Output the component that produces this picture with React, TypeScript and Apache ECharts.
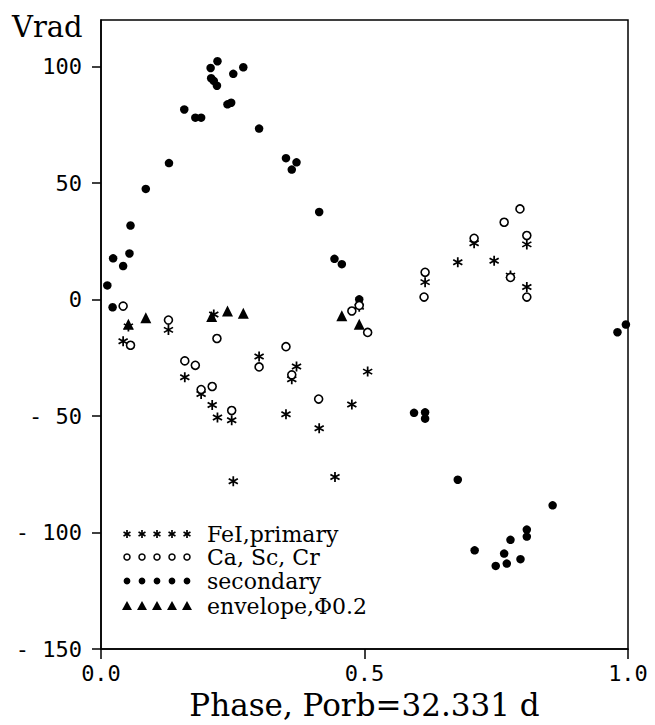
import React, { useEffect, useRef } from "react";
import * as echarts from "echarts";

// Phase, radial velocity pairs
const feiPrimary: [number, number][] = [
  [0.042, -17.9], [0.052, -11.5], [0.128, -13.0], [0.159, -33.3], [0.190, -40.5],
  [0.211, -45.2], [0.214, -6.4], [0.221, -50.6], [0.248, -51.8], [0.251, -78.0],
  [0.300, -24.4], [0.351, -49.2], [0.362, -34.2], [0.371, -28.7], [0.414, -55.2],
  [0.444, -76.1], [0.476, -45.0], [0.490, -3.1], [0.506, -30.9], [0.615, 7.5],
  [0.677, 16.0], [0.708, 24.2], [0.746, 16.7], [0.777, 10.3], [0.808, 23.7],
  [0.808, 5.4],
];

const caScCr: [number, number][] = [
  [0.042, -2.8], [0.056, -19.6], [0.128, -8.8], [0.159, -26.3], [0.179, -28.2],
  [0.190, -38.6], [0.211, -37.3], [0.220, -16.7], [0.248, -47.6], [0.300, -28.9],
  [0.351, -20.2], [0.362, -32.3], [0.413, -42.7], [0.476, -4.9], [0.490, -2.5],
  [0.506, -14.1], [0.613, 1.1], [0.615, 11.7], [0.708, 26.3], [0.765, 33.2],
  [0.777, 9.5], [0.795, 38.9], [0.808, 27.5], [0.808, 1.1],
];

const secondary: [number, number][] = [
  [0.012, 6.1], [0.022, -3.3], [0.023, 17.7], [0.042, 14.4], [0.054, 19.8],
  [0.056, 31.8], [0.085, 47.5], [0.129, 58.6], [0.158, 81.6], [0.179, 78.1],
  [0.190, 78.1], [0.208, 99.4], [0.209, 95.0], [0.214, 93.9], [0.220, 91.8],
  [0.221, 102.3], [0.240, 83.8], [0.247, 84.5], [0.251, 96.9], [0.270, 99.7],
  [0.300, 73.4], [0.351, 60.7], [0.362, 55.8], [0.371, 58.9], [0.414, 37.6],
  [0.443, 17.5], [0.457, 15.2], [0.490, 0.1], [0.594, -48.6], [0.615, -48.4],
  [0.615, -51.1], [0.677, -77.3], [0.709, -107.6], [0.749, -114.3], [0.765, -109.0],
  [0.770, -113.3], [0.777, -103.1], [0.796, -111.4], [0.808, -98.7], [0.808, -101.7],
  [0.857, -88.3], [0.980, -14.0], [0.996, -10.7],
];

const envelope: [number, number][] = [
  [0.052, -10.6], [0.085, -7.8], [0.210, -7.2], [0.240, -4.9], [0.270, -5.9],
  [0.457, -6.9], [0.490, -10.6],
];

const legendLabels = ["FeI,primary", "Ca, Sc, Cr", "secondary", "envelope,\u03A60.2"];
const yTicks = [-150, -100, -50, 0, 50, 100];
const xTicks = [0, 0.5, 1];

const ASTERISK =
  "path://M-1,-6L1,-6L1,6L-1,6Z M5.696,2.134L4.696,3.866L-5.696,-2.134L-4.696,-3.866Z M4.696,-3.866L5.696,-2.134L-4.696,3.866L-5.696,2.134Z";

const MONO = '"DejaVu Sans Mono", monospace';
const SERIF = '"DejaVu Serif", serif';

function legendGraphics() {
  const els: any[] = [];
  const x0 = 127;
  const dx = 15;
  const rowsY = [534, 557, 581, 606];
  rowsY.forEach((y, row) => {
    for (let i = 0; i < 5; i++) {
      const cx = x0 + i * dx;
      if (row === 0) {
        const r = 4;
        [90, 30, 150].forEach((a) => {
          const rad = (a * Math.PI) / 180;
          els.push({
            type: "line",
            shape: {
              x1: cx - r * Math.cos(rad),
              y1: y - r * Math.sin(rad),
              x2: cx + r * Math.cos(rad),
              y2: y + r * Math.sin(rad),
            },
            style: { stroke: "#000", lineWidth: 1.7 },
          });
        });
      } else if (row === 1) {
        els.push({
          type: "circle",
          shape: { cx, cy: y, r: 3 },
          style: { fill: "#fff", stroke: "#000", lineWidth: 1.5 },
        });
      } else if (row === 2) {
        els.push({
          type: "circle",
          shape: { cx, cy: y, r: 3.4 },
          style: { fill: "#000" },
        });
      } else {
        els.push({
          type: "polygon",
          shape: {
            points: [
              [cx, y - 5],
              [cx + 5, y + 4],
              [cx - 5, y + 4],
            ],
          },
          style: { fill: "#000" },
        });
      }
    }
    els.push({
      type: "text",
      x: 207,
      y,
      style: {
        text: legendLabels[row],
        font: `22px ${SERIF}`,
        fill: "#000",
        verticalAlign: "middle",
        textVerticalAlign: "middle",
      },
    });
  });
  return els;
}

export default function App() {
  const ref = useRef<HTMLDivElement>(null);
  useEffect(() => {
    if (!ref.current) return;
    const chart = echarts.init(ref.current, undefined, { renderer: "svg" });
    chart.setOption({
      animation: false,
      backgroundColor: "#fff",
      grid: {
        left: 101,
        right: 27,
        top: 20,
        bottom: 71,
        show: true,
        borderColor: "#000",
        borderWidth: 1.5,
        backgroundColor: "transparent",
      },
      xAxis: {
        type: "value",
        min: 0,
        max: 1,
        interval: 0.5,
        name: "Phase, Porb=32.331 d",
        nameLocation: "middle",
        nameGap: 34,
        nameTextStyle: { fontFamily: SERIF, fontSize: 31, color: "#000" },
        axisLine: { show: true, onZero: false, lineStyle: { color: "#000", width: 1.5 } },
        axisTick: { show: true, inside: false, length: 10, lineStyle: { color: "#000", width: 1.5 }, customValues: xTicks },
        axisLabel: {
          customValues: xTicks,
          margin: 13,
          fontFamily: MONO,
          fontSize: 22,
          color: "#000",
          formatter: (v: number) => v.toFixed(1),
        },
        splitLine: { show: false },
      },
      yAxis: {
        type: "value",
        min: -150,
        max: 120,
        interval: 50,
        axisLine: { show: true, onZero: false, lineStyle: { color: "#000", width: 1.5 } },
        axisTick: { show: true, inside: false, length: 9, lineStyle: { color: "#000", width: 1.5 }, customValues: yTicks },
        axisLabel: {
          customValues: yTicks,
          margin: 19,
          fontFamily: MONO,
          fontSize: 22,
          color: "#000",
          formatter: (v: number) => (v < 0 ? "- " + -v : String(v)),
        },
        splitLine: { show: false },
      },
      graphic: [
        {
          type: "text",
          left: 12,
          top: 12,
          style: { text: "Vrad", font: `29px ${SERIF}`, fill: "#000" },
        },
        ...legendGraphics(),
      ],
      series: [
        {
          name: "secondary",
          type: "scatter",
          data: secondary,
          symbol: "circle",
          symbolSize: 8.5,
          itemStyle: { color: "#000", opacity: 1 },
          clip: false,
        },
        {
          name: "envelope",
          type: "scatter",
          data: envelope,
          symbol: "triangle",
          symbolSize: 11,
          itemStyle: { color: "#000", opacity: 1 },
          clip: false,
        },
        {
          name: "FeI,primary",
          type: "scatter",
          data: feiPrimary,
          symbol: ASTERISK,
          symbolSize: [10, 10],
          itemStyle: { color: "#000", opacity: 1 },
          clip: false,
        },
        {
          name: "Ca, Sc, Cr",
          type: "scatter",
          data: caScCr,
          symbol: "circle",
          symbolSize: 8,
          itemStyle: { color: "#fff", borderColor: "#000", borderWidth: 1.6, opacity: 1 },
          clip: false,
        },
      ],
    });
    return () => chart.dispose();
  }, []);
  return (
    <div
      ref={ref}
      style={{ position: "fixed", left: 0, top: 0, width: 655, height: 725, background: "#fff" }}
    />
  );
}
